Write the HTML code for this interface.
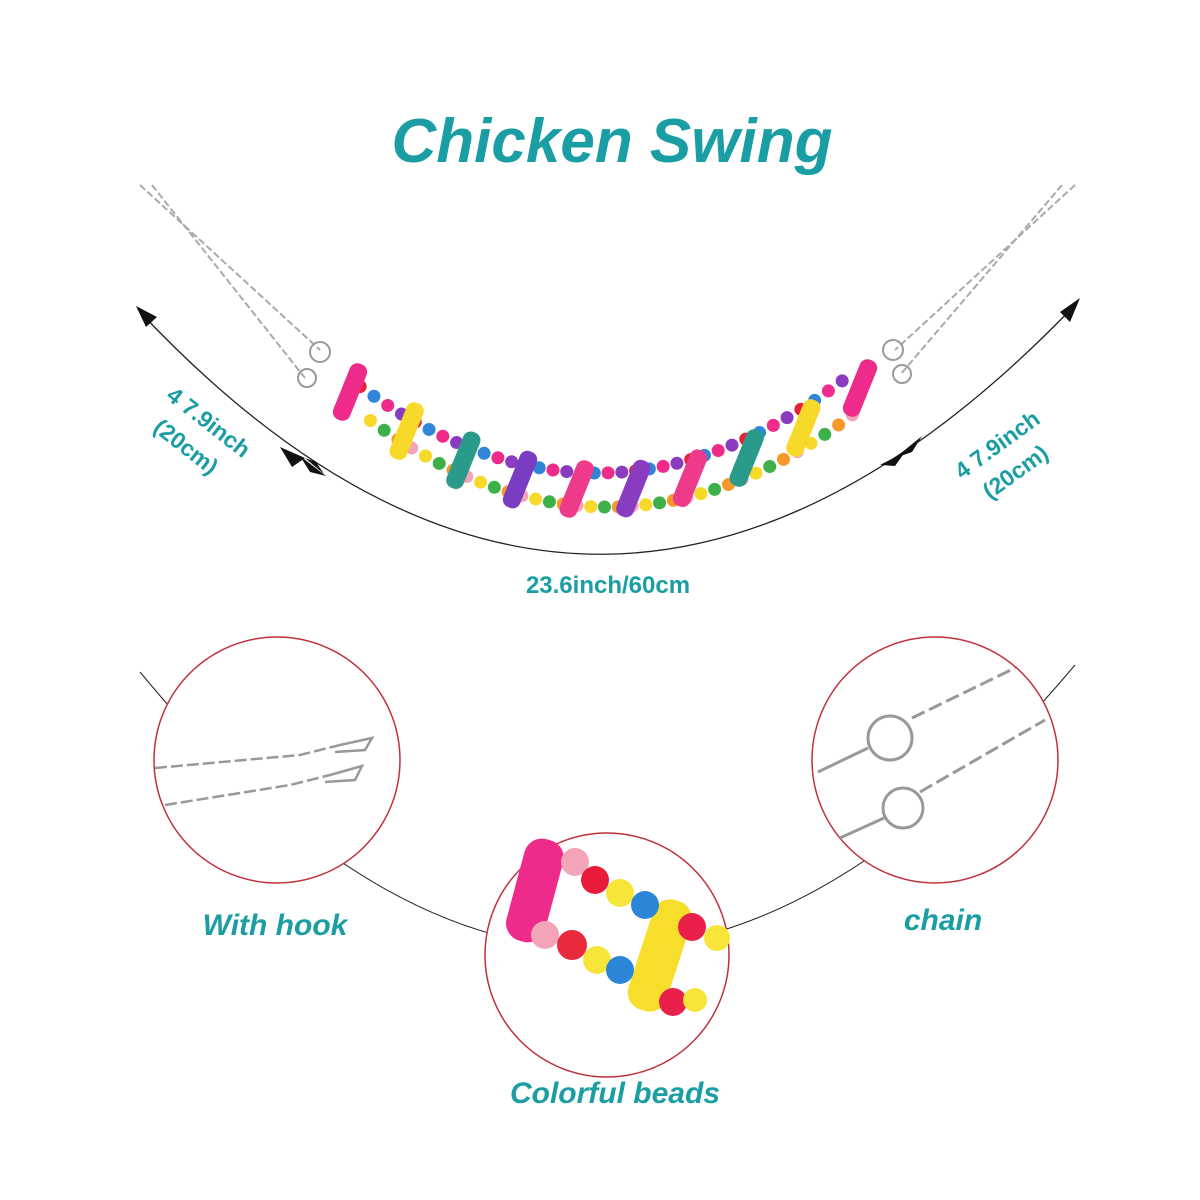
<!DOCTYPE html>
<html><head><meta charset="utf-8"><style>
html,body{margin:0;padding:0;background:#fff;width:1200px;height:1200px;overflow:hidden}
svg{display:block}
.t{font-family:"Liberation Sans",sans-serif;font-weight:bold;fill:#1a9ea3}
.i{font-style:italic}
</style></head><body>
<svg id="s" width="1200" height="1200" viewBox="0 0 1200 1200" xmlns="http://www.w3.org/2000/svg">
<text class="t i" x="612" y="162" font-size="62" text-anchor="middle">Chicken Swing</text>
<path d="M140,312 Q600,800 1075,305" fill="none" stroke="#222" stroke-width="1.3"/>
<polygon points="136,306 157,317 146,327" fill="#111"/>
<polygon points="1080,298 1070,322 1060,312" fill="#111"/>
<polygon points="280,447 305,458 292,467" fill="#111"/>
<polygon points="305,458 324,474 316,462" fill="#111"/>
<polygon points="300,456 326,476 310,472" fill="#111"/>
<polygon points="880,465 905,452 895,466" fill="#111"/>
<polygon points="895,458 922,436 912,452" fill="#111"/>
<text class="t" font-size="23" transform="translate(165,398) rotate(38)">4 7.9inch</text>
<text class="t" font-size="23" transform="translate(152,430) rotate(38)">(20cm)</text>
<text class="t" font-size="23" transform="translate(962,480) rotate(-36)">4 7.9inch</text>
<text class="t" font-size="23" transform="translate(990,500) rotate(-36)">(20cm)</text>
<text class="t" x="608" y="593" font-size="24" text-anchor="middle">23.6inch/60cm</text>
<g fill="none" stroke="#aaa" stroke-width="2" stroke-dasharray="7 3">
<path d="M140,185 L320,350"/><path d="M152,185 L305,378"/>
<path d="M1075,185 L895,350"/><path d="M1062,185 L900,375"/>
</g>
<g fill="none" stroke="#999" stroke-width="2">
<circle cx="320" cy="352" r="10"/><circle cx="307" cy="378" r="9"/>
<circle cx="893" cy="350" r="10"/><circle cx="902" cy="374" r="9"/>
</g>
<g id="lad"></g>
<path d="M140,672 Q600,1230 1075,665" fill="none" stroke="#222" stroke-width="1"/>
<g fill="#fff" stroke="#c0303c" stroke-width="1.5">
<circle cx="277" cy="760" r="123"/><circle cx="935" cy="760" r="123"/><circle cx="607" cy="955" r="122"/>
</g>
<g fill="none" stroke="#999" stroke-width="2.5">
<path d="M155,768 L300,755 L340,745" stroke-dasharray="12 4"/>
<path d="M165,805 L290,785 L330,775" stroke-dasharray="12 4"/>
<path d="M340,745 L372,738 L365,750 L335,752"/>
<path d="M330,775 L362,766 L355,780 L325,782"/>
</g>
<g fill="none" stroke="#999" stroke-width="3">
<path d="M912,718 L1015,668" stroke-dasharray="14 5"/>
<path d="M920,792 L1045,720" stroke-dasharray="14 5"/>
<circle cx="890" cy="738" r="22"/><circle cx="903" cy="808" r="20"/>
<path d="M868,748 L818,772"/><path d="M884,818 L840,838"/>
</g>
<g>
<rect x="515" y="838" width="40" height="105" rx="18" fill="#ee2a8a" transform="rotate(15 535 890)"/>
<rect x="640" y="898" width="40" height="115" rx="18" fill="#f7de2a" transform="rotate(18 660 955)"/>
<circle cx="575" cy="862" r="14" fill="#f4a4b8"/><circle cx="595" cy="880" r="14" fill="#e81c3a"/>
<circle cx="620" cy="893" r="14" fill="#f7e53a"/><circle cx="645" cy="905" r="14" fill="#2b86d8"/>
<circle cx="545" cy="935" r="14" fill="#f4a4b8"/><circle cx="572" cy="945" r="15" fill="#e82a3a"/>
<circle cx="597" cy="960" r="14" fill="#f7e53a"/><circle cx="620" cy="970" r="14" fill="#2b86d8"/>
<circle cx="692" cy="927" r="14" fill="#e8204a"/><circle cx="717" cy="938" r="13" fill="#f7e53a"/>
<circle cx="673" cy="1002" r="14" fill="#e8204a"/><circle cx="695" cy="1000" r="12" fill="#f7e53a"/>
</g>
<text class="t i" x="275" y="935" font-size="30" text-anchor="middle">With hook</text>
<text class="t i" x="943" y="930" font-size="30" text-anchor="middle">chain</text>
<text class="t i" x="615" y="1103" font-size="30" text-anchor="middle">Colorful beads</text>
</svg>
<script>
var g=document.getElementById('lad');
function P(t){var a=[350,392],c=[605,590],b=[860,388];var u=1-t;return[u*u*a[0]+2*u*t*c[0]+t*t*b[0],u*u*a[1]+2*u*t*c[1]+t*t*b[1]];}
var cols=['#e8203a','#f7d92a','#2f86d8','#3db04a','#ee2a8a','#f59a2a','#8a3cc0','#f4a4b8'];
var h='';var k=0;
for(var t=0.03;t<0.98;t+=0.027){var p=P(t);[-17,17].forEach(function(o){h+='<circle cx="'+(p[0]+o*0.3)+'" cy="'+(p[1]+o)+'" r="6.5" fill="'+cols[(k++)%8]+'"/>';});}
var sc=['#ee2a8a','#f7d92a','#2a9a8a','#7a3cc0','#ee3a8a','#8a3cc0','#ee3a8a','#2a9a8a','#f7d92a','#ee2a8a'];
for(var i=0;i<10;i++){var p=P(i/9);h+='<rect x="'+(p[0]-9)+'" y="'+(p[1]-30)+'" width="18" height="60" rx="8" fill="'+sc[i]+'" transform="rotate(22 '+p[0]+' '+p[1]+')"/>';}
g.innerHTML=h;
</script>
</body></html>
